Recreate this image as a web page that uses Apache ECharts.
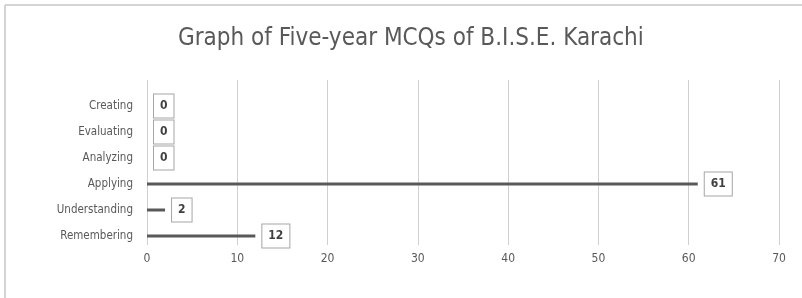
<!DOCTYPE html>
<html>
<head>
<meta charset="utf-8">
<script src="https://cdn.jsdelivr.net/npm/echarts@6/dist/echarts.min.js"></script>
<style>html,body{margin:0;padding:0;background:#fff;}#c{width:802px;height:298px;}</style>
</head>
<body>
<div id="c"></div>
<script>
const categories = ['Remembering', 'Understanding', 'Applying', 'Analyzing', 'Evaluating', 'Creating'];
const values = [12, 2, 61, 0, 0, 0];
const xTicks = [0, 10, 20, 30, 40, 50, 60, 70];
const titleText = 'Graph of Five-year MCQs of B.I.S.E. Karachi';

const chart = echarts.init(document.getElementById('c'), null, {renderer: 'canvas'});
const font = '"DejaVu Sans Condensed", "Liberation Sans Narrow", "Liberation Sans", sans-serif';
chart.setOption({
  animation: false,
  backgroundColor: '#fff',
  title: {
    text: titleText, left: 173, top: 22,
    textStyle: {fontFamily: font, fontSize: 24, fontWeight: 'normal', color: '#595959'}
  },
  graphic: [
    {type: 'line', shape: {x1: 5, y1: 5, x2: 802, y2: 5}, style: {stroke: '#d4d4d4', lineWidth: 2}},
    {type: 'line', shape: {x1: 5, y1: 5, x2: 5, y2: 298}, style: {stroke: '#d4d4d4', lineWidth: 2}}
  ],
  grid: [
    {left: 147, right: 23, top: 80, bottom: 53},
    {left: 147, right: 23, top: 93, bottom: 49}
  ],
  xAxis: [
    {gridIndex: 0, type: 'value', min: xTicks[0], max: xTicks[xTicks.length - 1], interval: 10,
     axisLine: {show: false}, axisTick: {show: false},
     splitLine: {show: true, lineStyle: {color: '#d0d0d0', width: 1}},
     axisLabel: {margin: 8, color: '#595959', fontSize: 12, fontFamily: font}},
    {gridIndex: 1, type: 'value', min: xTicks[0], max: xTicks[xTicks.length - 1], interval: 10, show: false}
  ],
  yAxis: [
    {gridIndex: 0, type: 'category', data: categories, show: false},
    {gridIndex: 1, type: 'category', data: categories,
     axisLine: {show: false}, axisTick: {show: false}, splitLine: {show: false},
     axisLabel: {margin: 14, color: '#595959', fontSize: 11.5, fontFamily: font}}
  ],
  series: [{
    type: 'bar', xAxisIndex: 1, yAxisIndex: 1, data: values, barWidth: 3,
    itemStyle: {color: '#595959'},
    label: {
      show: true, position: 'right', distance: 7,
      color: '#404040', fontSize: 12, fontWeight: 'bold', fontFamily: font,
      borderColor: '#a6a6a6', borderWidth: 1, padding: [6, 6, 5, 6], backgroundColor: '#fff'
    }
  }]
});
</script>
</body>
</html>
